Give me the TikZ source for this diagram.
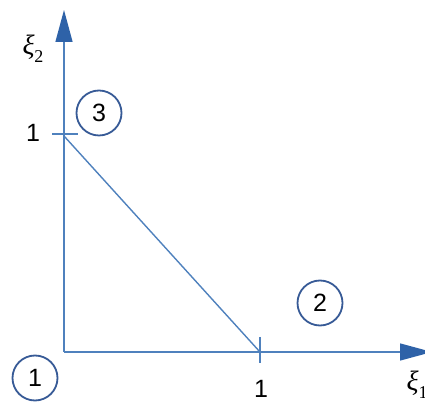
\documentclass[tikz,border=0pt]{standalone}
\usepackage{fontspec}
\setmainfont{Liberation Sans}
\newfontfamily\grk{Liberation Serif}
\usetikzlibrary{arrows.meta}
\definecolor{axisblue}{RGB}{79,129,189}
\definecolor{tipblue}{RGB}{46,98,168}
\definecolor{ringblue}{RGB}{55,90,150}
\newcommand{\xisub}[1]{{\grk\itshape ξ}\raisebox{-0.28em}{\grk\fontsize{18}{18}\selectfont #1}}
\tikzset{
  axisline/.style={draw=axisblue, line width=1.4pt},
  axisarrow/.style={axisline, -{Triangle[length=32pt,width=17pt,color=tipblue]}},
  ring/.style={circle, draw=ringblue, line width=1.8pt, minimum size=45pt, inner sep=0pt, font=\fontsize{25}{25}\selectfont},
  numlabel/.style={font=\fontsize{25}{25}\selectfont, inner sep=0pt},
  axlabel/.style={font=\fontsize{28}{28}\selectfont, inner sep=0pt}
}
\begin{document}
\begin{tikzpicture}[x=1pt,y=1pt]
\useasboundingbox (0,0) rectangle (425,401);
\coordinate (O) at (64,49);
\coordinate (ytip) at (64,391);
\coordinate (xtip) at (432,49);
\coordinate (p3) at (64,265);
\coordinate (p2) at (260,49);
\coordinate (ty1) at (52,267);
\coordinate (ty2) at (78,267);
\coordinate (tx1) at (260,64);
\coordinate (tx2) at (260,38);
\draw[axisarrow] (O) -- (ytip);
\draw[axisarrow] (O) -- (xtip);
\draw[axisline] (p3) -- (p2);
\draw[axisline] (ty1) -- (ty2);
\draw[axisline] (tx1) -- (tx2);
\node[numlabel] (one-y) at (33,268) {1};
\node[numlabel] (one-x) at (261,12) {1};
\node[ring] (n3) at (99,288) {3};
\node[ring] (n2) at (320,98) {2};
\node[ring] (n1) at (35,23) {1};
\node[axlabel] (xi2) at (33,352) {\xisub{2}};
\node[axlabel] (xi1) at (417,16) {\xisub{1}};
\end{tikzpicture}
\end{document}
